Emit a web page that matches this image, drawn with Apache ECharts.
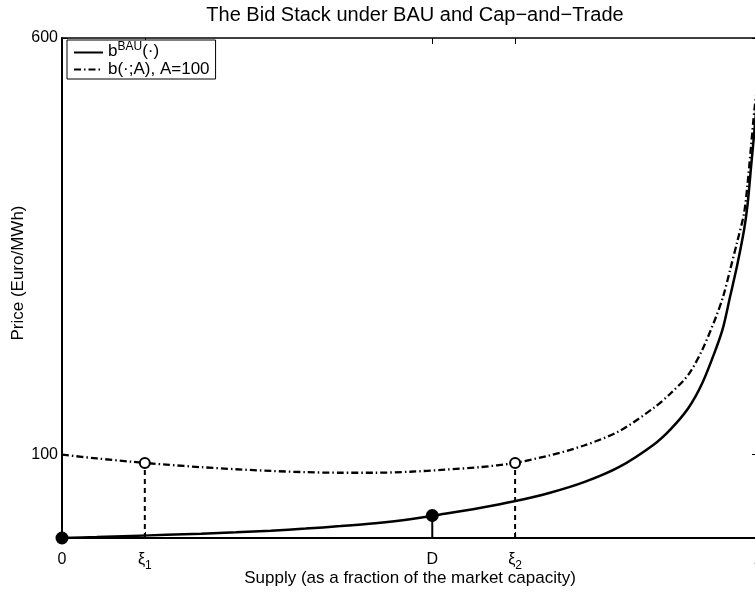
<!DOCTYPE html>
<html><head><meta charset="utf-8">
<script src="https://cdn.jsdelivr.net/npm/echarts@6/dist/echarts.min.js"></script>
<style>html,body{margin:0;padding:0;overflow:hidden;background:#fff}#c{width:770px;height:596px}</style>
</head><body><div id="c"></div>
<script>
// Supply as a fraction of market capacity
const supply   = [0, 0.05, 0.10, 0.15, 0.20, 0.25, 0.30, 0.35, 0.40, 0.45, 0.50, 0.55, 0.60, 0.65, 0.70, 0.75, 0.80, 0.85, 0.875, 0.90, 0.92, 0.94, 0.95, 0.96, 0.97, 0.98, 0.985, 0.99, 0.995, 1.0];
// b^BAU(.)
const bauPrice = [0, 1.2, 2.5, 3.8, 5.1, 6.8, 8.8, 11.3, 14.3, 17.8, 22.5, 29, 36, 44, 54, 67, 85, 112, 131, 156, 186, 228, 253, 290, 327, 370, 400, 445, 490, 540];
// b(.;A), A=100
const capPrice = [100, 95.5, 91.5, 88, 85, 82.5, 80.5, 79, 78.3, 78.3, 79.5, 82, 85, 90, 99, 111, 128, 156, 174, 196, 226, 266, 290, 322, 355, 390, 425, 470, 515, 550];

const xi1 = 0.119, demand = 0.532, xi2 = 0.651;
const priceAtXi = 90, priceAtD = 27;
const xTickValues = [0, xi1, demand, xi2, 1];
const xTickLabels = ['0', '{g|ξ}{s|1}', 'D', '{g|ξ}{s|2}', '1'];
const yTickValues = [100, 600];
const yTickLabels = ['100', '600'];
const filledPoints = [[0, 0], [demand, priceAtD]];
const openPoints = [[xi1, priceAtXi], [xi2, priceAtXi]];

const FONT = 'Liberation Sans, Arial, Helvetica, sans-serif';
const zip = (a, b) => a.map((v, i) => [v, b[i]]);

const chart = echarts.init(document.getElementById('c'), null, {renderer: 'canvas'});
const bauName = 'bBAU', capName = 'b(·;A), A=100';

const guide = (x, y, type) => ({
  type: 'line', data: [[x, 0], [x, y]], symbol: 'none', silent: true,
  lineStyle: {color: '#000', width: 2, type: type}, z: 3
});

chart.setOption({
  animation: false,
  backgroundColor: '#fff',
  textStyle: {fontFamily: FONT},
  title: {
    text: 'The Bid Stack under BAU and Cap−and−Trade',
    left: 410, top: 0, textAlign: 'center',
    textStyle: {fontFamily: FONT, fontSize: 20, fontWeight: 'normal', color: '#000'}
  },
  grid: {left: 62, right: 12, top: 38, bottom: 58, containLabel: false, outerBoundsMode: 'none'},
  legend: {
    data: [bauName, capName],
    orient: 'vertical', left: 67, top: 40,
    backgroundColor: '#fff', borderColor: '#000', borderWidth: 1, borderRadius: 0,
    padding: [1, 6, 1, 6], itemGap: 1, itemWidth: 29, itemHeight: 12,
    itemStyle: {opacity: 0},
    textStyle: {fontFamily: FONT, fontSize: 17, color: '#000', lineHeight: 15,
      rich: {b: {fontFamily: FONT, fontSize: 17, color: '#000', lineHeight: 15, verticalAlign: 'bottom'},
             sup: {fontFamily: FONT, fontSize: 12, color: '#000', lineHeight: 12, verticalAlign: 'bottom', padding: [0, 0, 7, 0]}}},
    formatter: n => n === bauName ? '{b|b}{sup|BAU}{b|(·)}' : n
  },
  xAxis: [{
    type: 'value', min: 0, max: 1, position: 'bottom',
    name: 'Supply (as a fraction of the market capacity)', nameLocation: 'middle', nameGap: 32,
    nameMoveOverlap: false,
    nameTextStyle: {fontFamily: FONT, fontSize: 17, color: '#000'},
    axisLine: {show: true, onZero: false, lineStyle: {color: '#000', width: 2}},
    axisTick: {show: true, inside: true, length: 6, customValues: xTickValues, lineStyle: {color: '#000', width: 1}},
    axisLabel: {customValues: xTickValues, margin: 14, color: '#000', fontFamily: FONT, fontSize: 16,
      formatter: v => xTickLabels[xTickValues.indexOf(v)],
      rich: {g: {fontFamily: FONT, fontSize: 16, color: '#000', verticalAlign: 'top'},
             s: {fontFamily: FONT, fontSize: 12, color: '#000', verticalAlign: 'top', padding: [8, 0, 0, 0]}}},
    splitLine: {show: false}
  }, {
    type: 'value', min: 0, max: 1, position: 'top',
    axisLine: {show: true, onZero: false, lineStyle: {color: '#000', width: 1.5}},
    axisTick: {show: true, inside: true, length: 6, customValues: xTickValues, lineStyle: {color: '#000', width: 1}},
    axisLabel: {show: false}, splitLine: {show: false}
  }],
  yAxis: [{
    type: 'value', min: 0, max: 600, position: 'left',
    name: 'Price (Euro/MWh)', nameLocation: 'middle', nameGap: 35, nameRotate: 90,
    nameMoveOverlap: false,
    nameTextStyle: {fontFamily: FONT, fontSize: 17, color: '#000', padding: [0, 0, 0, 30]},
    axisLine: {show: true, onZero: false, lineStyle: {color: '#000', width: 2}},
    axisTick: {show: true, inside: true, length: 6, customValues: yTickValues, lineStyle: {color: '#000', width: 1}},
    axisLabel: {customValues: yTickValues, margin: 4, color: '#000', fontFamily: FONT, fontSize: 16,
      formatter: v => yTickLabels[yTickValues.indexOf(v)]},
    splitLine: {show: false}
  }, {
    type: 'value', min: 0, max: 600, position: 'right',
    axisLine: {show: true, onZero: false, lineStyle: {color: '#000', width: 1.5}},
    axisTick: {show: true, inside: true, length: 6, customValues: yTickValues, lineStyle: {color: '#000', width: 1}},
    axisLabel: {show: false}, splitLine: {show: false}
  }],
  series: [
    {name: bauName, type: 'line', data: zip(supply, bauPrice), symbol: 'none', smooth: 0.3,
     lineStyle: {color: '#000', width: 2.5, type: 'solid'}, itemStyle: {color: '#000'}, z: 4},
    {name: capName, type: 'line', data: zip(supply, capPrice), symbol: 'none', smooth: 0.3,
     lineStyle: {color: '#000', width: 2.3, type: [7, 3, 1.5, 3]}, itemStyle: {color: '#000'}, z: 4},
    guide(xi1, priceAtXi, [5, 4]),
    guide(xi2, priceAtXi, [5, 4]),
    guide(demand, priceAtD, 'solid'),
    {type: 'scatter', data: filledPoints, symbol: 'circle', symbolSize: 13, silent: true,
     itemStyle: {color: '#000', opacity: 1}, z: 6},
    {type: 'scatter', data: openPoints, symbol: 'circle', symbolSize: 10, silent: true,
     itemStyle: {color: '#fff', borderColor: '#000', borderWidth: 2, opacity: 1}, z: 6}
  ]
});
</script></body></html>
